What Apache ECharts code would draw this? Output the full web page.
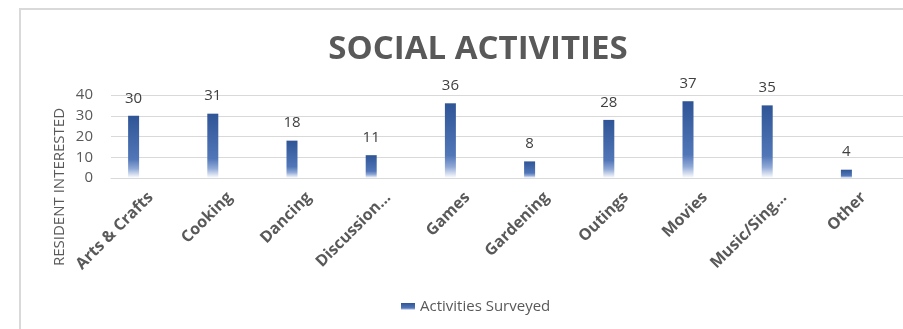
<!DOCTYPE html>
<html>
<head>
<meta charset="utf-8">
<script src="https://cdn.jsdelivr.net/npm/echarts@6/dist/echarts.min.js"></script>
<style>
  html, body { margin: 0; padding: 0; background: #fff; }
  #chart { width: 903px; height: 329px; }
</style>
</head>
<body>
<div id="chart"></div>
<script>
// Data
const categories = ['Arts & Crafts', 'Cooking', 'Dancing', 'Discussion…', 'Games', 'Gardening', 'Outings', 'Movies', 'Music/Sing…', 'Other'];
const residents = [30, 31, 18, 11, 36, 8, 28, 37, 35, 4];
const yTicks = [0, 10, 20, 30, 40];

const chart = echarts.init(document.getElementById('chart'));

const barColor = new echarts.graphic.LinearGradient(0, 0, 0, 1, [
  { offset: 0, color: '#2f5597' },
  { offset: 0.7, color: '#5277b8' },
  { offset: 0.85, color: '#8fa8d6' },
  { offset: 1, color: '#ffffff' }
]);

const option = {
  backgroundColor: '#fff',
  textStyle: { fontFamily: 'Open Sans' },
  title: {
    text: 'SOCIAL ACTIVITIES',
    left: 473,
    textAlign: 'center',
    top: 28,
    textStyle: { fontFamily: 'Open Sans', fontWeight: 'bold', fontSize: 33, color: '#595959' }
  },
  graphic: [
    {
      type: 'rect',
      shape: { x: 20, y: 9, width: 900, height: 340 },
      style: { fill: null, stroke: '#d9d9d9', lineWidth: 2 },
      silent: true
    },
    {
      type: 'text',
      x: 60,
      y: 187,
      rotation: Math.PI / 2,
      style: {
        text: 'RESIDENT INTERESTED',
        fill: '#595959',
        font: '15px "Open Sans"',
        textAlign: 'center',
        textVerticalAlign: 'middle'
      }
    }
  ],
  legend: {
    left: 396,
    top: 294,
    icon: 'rect',
    itemWidth: 14,
    itemHeight: 7,
    itemGap: 4,
    data: ['Activities Surveyed'],
    textStyle: { fontSize: 15, color: '#595959', fontFamily: 'Open Sans' }
  },
  grid: [
    { left: 111, right: 0, top: 95, height: 83 },
    { left: 94, right: 17, top: 95, height: 83 }
  ],
  xAxis: [
    {
      type: 'category',
      gridIndex: 0,
      data: categories,
      axisTick: { show: false },
      axisLine: { lineStyle: { color: '#d9d9d9', width: 1 } },
      axisLabel: {
        interval: 0,
        rotate: 45,
        margin: 17,
        fontSize: 16,
        fontWeight: 'bold',
        color: '#595959'
      }
    },
    {
      type: 'category',
      gridIndex: 1,
      data: categories,
      show: false
    }
  ],
  yAxis: [
    {
      type: 'value',
      gridIndex: 0,
      min: yTicks[0],
      max: yTicks[yTicks.length - 1],
      interval: 10,
      axisLine: { show: false },
      axisTick: { show: false },
      axisLabel: { fontSize: 15, color: '#595959', margin: 18 },
      splitLine: { lineStyle: { color: '#d9d9d9', width: 1 } }
    },
    {
      type: 'value',
      gridIndex: 1,
      min: yTicks[0],
      max: yTicks[yTicks.length - 1],
      show: false
    }
  ],
  series: [
    {
      name: 'Activities Surveyed',
      type: 'bar',
      xAxisIndex: 1,
      yAxisIndex: 1,
      data: residents,
      barWidth: 11,
      itemStyle: { color: barColor },
      label: {
        show: true,
        position: 'top',
        distance: 10,
        fontSize: 15,
        color: '#404040'
      }
    }
  ]
};

chart.setOption(option);
</script>
</body>
</html>
